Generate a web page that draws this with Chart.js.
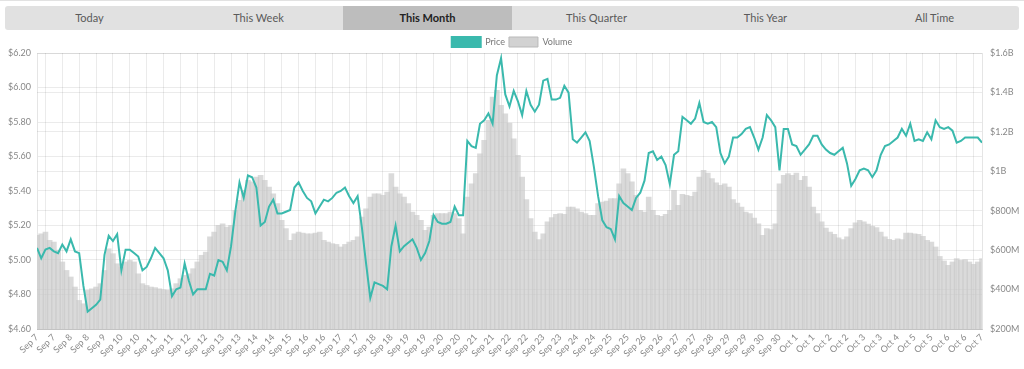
<!DOCTYPE html>
<html>
<head>
    <title>Price and Volume - This Month</title>
    <script src="https://cdn.jsdelivr.net/npm/chart.js"></script>
    <style>
        body {
            margin: 0;
            width: 1024px;
            height: 369px;
            overflow: hidden;
            position: relative;
            background: #fff;
            font-family: Lato, "Open Sans", sans-serif;
        }
        .top-line {
            position: absolute;
            left: 0; top: 0;
            width: 1024px; height: 1px;
            background: #e2e2e2;
        }
        .tabs {
            position: absolute;
            left: 5px; top: 6px;
            width: 1014px; height: 24px;
            display: flex;
            background: #e1e1e1;
            border-radius: 3px;
            overflow: hidden;
        }
        .tabs div {
            flex: 1;
            text-align: center;
            line-height: 24px;
            font-size: 11px;
            color: #5a5a5a;
        }
        .tabs .active {
            background: #bdbdbd;
            color: #222;
            font-weight: bold;
        }
        #chartBox {
            position: absolute;
            left: 0; top: 33px;
            width: 1024px; height: 336px;
        }
    </style>
</head>
<body>
    <div class="top-line"></div>
    <div class="tabs">
        <div>Today</div>
        <div>This Week</div>
        <div class="active">This Month</div>
        <div>This Quarter</div>
        <div>This Year</div>
        <div>All Time</div>
    </div>
    <div id="chartBox"><canvas id="chart"></canvas></div>

    <script>
        // labelled ticks on the time axis (one every 4 data points)
        const tickLabels = [
            'Sep 7', 'Sep 7', 'Sep 8', 'Sep 8', 'Sep 9', 'Sep 10', 'Sep 10', 'Sep 11', 'Sep 11', 'Sep 12',
            'Sep 12', 'Sep 13', 'Sep 13', 'Sep 14', 'Sep 14', 'Sep 15', 'Sep 16', 'Sep 16', 'Sep 17', 'Sep 17',
            'Sep 18', 'Sep 18', 'Sep 19', 'Sep 19', 'Sep 20', 'Sep 20', 'Sep 21', 'Sep 21', 'Sep 22', 'Sep 22',
            'Sep 23', 'Sep 23', 'Sep 24', 'Sep 24', 'Sep 25', 'Sep 25', 'Sep 26', 'Sep 26', 'Sep 27', 'Sep 27',
            'Sep 28', 'Sep 29', 'Sep 29', 'Sep 30', 'Sep 30', 'Oct 1', 'Oct 1', 'Oct 2', 'Oct 2', 'Oct 3',
            'Oct 3', 'Oct 4', 'Oct 5', 'Oct 5', 'Oct 6', 'Oct 6', 'Oct 7'
        ];
        const pointsPerTick = 4;

        // price in USD
        const price = [
            5.07, 5.01, 5.06, 5.07, 5.05, 5.04, 5.09, 5.05, 5.12, 5.05, 5.04, 4.85, 4.70,
            4.72, 4.74, 4.77, 5.03, 5.14, 5.11, 5.15, 4.94, 5.06, 5.06, 5.04, 5.02, 4.94,
            4.96, 5.01, 5.07, 5.04, 5.01, 4.94, 4.79, 4.83, 4.84, 4.98, 4.88, 4.80, 4.83,
            4.83, 4.83, 4.92, 4.91, 5.00, 4.99, 4.94, 5.08, 5.28, 5.45, 5.36, 5.49, 5.48, 5.42,
            5.20, 5.22, 5.31, 5.35, 5.27, 5.27, 5.28, 5.29, 5.42, 5.45, 5.40, 5.36, 5.34,
            5.27, 5.31, 5.35, 5.34, 5.36, 5.39, 5.40, 5.42, 5.37, 5.33, 5.37, 5.19, 4.98,
            4.78, 4.87, 4.86, 4.85, 4.83, 5.08, 5.20, 5.05, 5.08, 5.10, 5.12, 5.07, 5.00,
            5.04, 5.11, 5.26, 5.22, 5.21, 5.21, 5.22, 5.31, 5.26, 5.26, 5.69, 5.66, 5.65,
            5.79, 5.81, 5.85, 5.79, 6.07, 6.17, 5.96, 5.89, 5.98, 5.92, 5.84, 5.98, 5.90,
            5.86, 5.90, 6.04, 6.05, 5.93, 5.93, 5.94, 6.01, 5.97, 5.70, 5.68, 5.71, 5.74,
            5.69, 5.54, 5.37, 5.23, 5.19, 5.18, 5.12, 5.37, 5.33, 5.31, 5.29, 5.36, 5.39,
            5.46, 5.62, 5.63, 5.58, 5.60, 5.55, 5.44, 5.61, 5.63, 5.83, 5.81, 5.79, 5.82,
            5.91, 5.80, 5.79, 5.80, 5.77, 5.62, 5.56, 5.60, 5.71, 5.71, 5.73, 5.76, 5.77,
            5.71, 5.64, 5.71, 5.84, 5.81, 5.77, 5.52, 5.76, 5.76, 5.67, 5.66, 5.61, 5.64,
            5.67, 5.72, 5.72, 5.67, 5.64, 5.62, 5.61, 5.63, 5.65, 5.56, 5.43, 5.47, 5.52,
            5.53, 5.52, 5.48, 5.52, 5.61, 5.66, 5.67, 5.69, 5.71, 5.76, 5.72, 5.79, 5.69,
            5.70, 5.69, 5.74, 5.70, 5.81, 5.77, 5.76, 5.77, 5.75, 5.68, 5.69, 5.71, 5.71,
            5.71, 5.71, 5.68
        ];

        // volume in millions of USD
        const volume = [
            675, 683, 692, 650, 641, 600, 540, 497, 464, 413, 345, 328, 396,
            404, 413, 430, 497, 607, 582, 531, 514, 540, 548, 540, 480, 430,
            421, 413, 410, 404, 399, 396, 404, 430, 455, 472, 480, 506, 540,
            574, 590, 667, 692, 726, 734, 717, 726, 802, 853, 903, 954, 946, 971,
            979, 954, 920, 886, 836, 751, 709, 650, 683, 692, 687, 683, 683,
            687, 692, 650, 641, 633, 629, 616, 629, 641, 650, 667, 768, 810,
            869, 886, 886, 878, 895, 988, 920, 886, 869, 836, 793, 776, 751,
            700, 717, 776, 785, 785, 785, 793, 785, 760, 683, 869, 937, 988,
            1089, 1157, 1258, 1377, 1411, 1335, 1292, 1245, 1165, 1081, 971, 856, 760,
            692, 653, 683, 743, 765, 782, 785, 782, 819, 819, 810, 793, 785,
            776, 776, 836, 844, 849, 861, 861, 937, 1013, 988, 946, 878, 802,
            793, 869, 802, 776, 771, 782, 802, 903, 827, 883, 878, 873, 895,
            971, 1005, 991, 963, 941, 929, 937, 920, 856, 839, 819, 793, 785,
            763, 734, 675, 709, 704, 734, 937, 979, 988, 979, 991, 954, 974,
            920, 819, 785, 743, 712, 692, 680, 663, 653, 667, 709, 738, 751,
            743, 732, 721, 714, 692, 667, 655, 650, 657, 653, 687, 687, 683,
            680, 670, 650, 641, 616, 568, 545, 523, 540, 557, 548, 552, 540,
            528, 540, 557
        ];

        const teal = '#3ab9ad';
        const tickFont = { family: 'Lato', size: 9 };
        const gridColor = 'rgba(0,0,0,0.08)';

        function fmtVolume(v) {
            return v >= 1000 ? '$' + (v / 1000) + 'B' : '$' + v + 'M';
        }

        // pull the plot area a little closer to the legend
        const legendGap = {
            id: 'legendGap',
            beforeInit(c) {
                const fit = c.legend.fit;
                c.legend.fit = function() {
                    fit.call(this);
                    this.height -= 4;
                };
            }
        };

        const ctx = document.getElementById('chart').getContext('2d');
        const chart = new Chart(ctx, {
            type: 'bar',
            data: {
                datasets: [{
                    type: 'line',
                    label: 'Price',
                    data: price.map((v, i) => ({ x: i, y: v })),
                    yAxisID: 'y',
                    borderColor: teal,
                    backgroundColor: teal,
                    borderWidth: 2,
                    pointRadius: 0,
                    tension: 0
                }, {
                    type: 'bar',
                    label: 'Volume',
                    data: volume.map((v, i) => ({ x: i, y: v })),
                    yAxisID: 'y1',
                    backgroundColor: 'rgba(200,200,200,0.68)',
                    borderWidth: 0,
                    barThickness: 5
                }]
            },
            options: {
                responsive: true,
                maintainAspectRatio: false,
                animation: false,
                layout: { padding: 0 },
                plugins: {
                    tooltip: { enabled: false },
                    legend: {
                        labels: {
                            boxWidth: 29,
                            boxHeight: 10,
                            padding: 4,
                            color: '#777',
                            font: { family: 'Lato', size: 9 },
                            generateLabels: function(c) {
                                const items = Chart.defaults.plugins.legend.labels.generateLabels(c);
                                items[1].fillStyle = '#d2d2d2';
                                items[1].strokeStyle = '#b9b9b9';
                                items[1].lineWidth = 1;
                                return items;
                            }
                        }
                    }
                },
                scales: {
                    x: {
                        type: 'linear',
                        min: 0,
                        max: price.length - 1,
                        offset: false,
                        afterBuildTicks: function(s) {
                            s.ticks = tickLabels.map((_, i) => ({ value: i * pointsPerTick }));
                        },
                        afterFit: function(s) { s.height = 40; },
                        grid: { color: gridColor, drawTicks: false },
                        ticks: {
                            autoSkip: false,
                            minRotation: 45,
                            maxRotation: 45,
                            padding: 3,
                            color: '#888',
                            font: tickFont,
                            callback: v => tickLabels[Math.round(v / pointsPerTick)]
                        }
                    },
                    y: {
                        position: 'left',
                        min: 4.6,
                        max: 6.2,
                        afterFit: function(s) { s.width = 37; },
                        grid: { color: gridColor, drawTicks: false },
                        ticks: {
                            stepSize: 0.2,
                            padding: 6,
                            color: '#888',
                            font: tickFont,
                            callback: v => '$' + v.toFixed(2)
                        }
                    },
                    y1: {
                        position: 'right',
                        min: 200,
                        max: 1600,
                        afterFit: function(s) { s.width = 42; },
                        grid: { color: gridColor, drawTicks: false },
                        ticks: {
                            stepSize: 200,
                            padding: 8,
                            color: '#888',
                            font: tickFont,
                            callback: fmtVolume
                        }
                    }
                }
            },
            plugins: [legendGap]
        });
    </script>
</body>
</html>
